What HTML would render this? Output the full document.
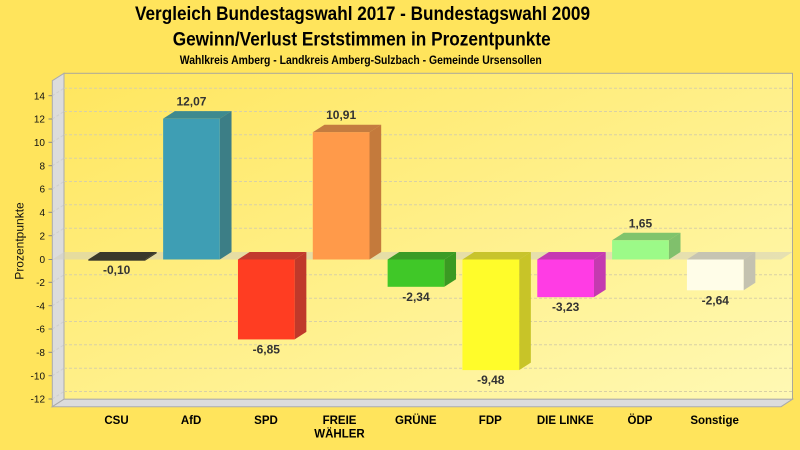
<!DOCTYPE html>
<html><head><meta charset="utf-8"><style>
html,body{margin:0;padding:0;background:#FFE45C;}
svg{display:block;font-family:"Liberation Sans",Arial,sans-serif;}
</style></head><body>
<svg width="800" height="450" viewBox="0 0 800 450" xmlns="http://www.w3.org/2000/svg">
<defs>
<linearGradient id="wall" x1="0" y1="0" x2="1" y2="1">
<stop offset="0" stop-color="#FFE65E"/>
<stop offset="1" stop-color="#FFF9B4"/>
</linearGradient>
</defs>
<rect x="0" y="0" width="800" height="450" fill="#FFE45C"/>
<!-- titles -->
<text x="362.5" y="19.8" font-size="19.5" font-weight="bold" text-anchor="middle" textLength="455" lengthAdjust="spacingAndGlyphs">Vergleich Bundestagswahl 2017 - Bundestagswahl 2009</text>
<text x="361.7" y="45.5" font-size="19.5" font-weight="bold" text-anchor="middle" textLength="378" lengthAdjust="spacingAndGlyphs">Gewinn/Verlust Erststimmen in Prozentpunkte</text>
<text x="360.8" y="63.8" font-size="11.5" font-weight="bold" text-anchor="middle" textLength="362" lengthAdjust="spacingAndGlyphs">Wahlkreis Amberg - Landkreis Amberg-Sulzbach - Gemeinde Ursensollen</text>

<!-- back wall -->
<rect x="64" y="73.3" width="728.5" height="326" fill="url(#wall)" stroke="#ABA89A" stroke-width="1"/>
<!-- left wall -->
<polygon points="52.3,80.7 64,73.3 64,399.2 52.3,406.7" fill="#DCDCDC" stroke="#ABABAB" stroke-width="1"/>
<!-- floor -->
<polygon points="52.3,406.7 64,399.2 792.5,399.2 781,406.7" fill="#DCDCDC" stroke="#ABABAB" stroke-width="1"/>

<!-- gridlines -->
<g stroke="#D8D0A6" stroke-width="1" stroke-dasharray="3,2" fill="none">
<line x1="64" y1="88.2" x2="792" y2="88.2"/>
<line x1="64" y1="111.5" x2="792" y2="111.5"/>
<line x1="64" y1="134.8" x2="792" y2="134.8"/>
<line x1="64" y1="158.2" x2="792" y2="158.2"/>
<line x1="64" y1="181.5" x2="792" y2="181.5"/>
<line x1="64" y1="204.8" x2="792" y2="204.8"/>
<line x1="64" y1="228.2" x2="792" y2="228.2"/>
<line x1="64" y1="274.8" x2="792" y2="274.8"/>
<line x1="64" y1="298.2" x2="792" y2="298.2"/>
<line x1="64" y1="321.5" x2="792" y2="321.5"/>
<line x1="64" y1="344.8" x2="792" y2="344.8"/>
<line x1="64" y1="368.2" x2="792" y2="368.2"/>
<line x1="64" y1="391.5" x2="792" y2="391.5"/>
</g>
<g stroke="#CFCFCF" stroke-width="1" stroke-dasharray="3,2" fill="none">
<line x1="52.3" y1="95.7" x2="64" y2="88.2"/>
<line x1="52.3" y1="119" x2="64" y2="111.5"/>
<line x1="52.3" y1="142.3" x2="64" y2="134.8"/>
<line x1="52.3" y1="165.7" x2="64" y2="158.2"/>
<line x1="52.3" y1="189" x2="64" y2="181.5"/>
<line x1="52.3" y1="212.3" x2="64" y2="204.8"/>
<line x1="52.3" y1="235.7" x2="64" y2="228.2"/>
<line x1="52.3" y1="282.3" x2="64" y2="274.8"/>
<line x1="52.3" y1="305.7" x2="64" y2="298.2"/>
<line x1="52.3" y1="329" x2="64" y2="321.5"/>
<line x1="52.3" y1="352.3" x2="64" y2="344.8"/>
<line x1="52.3" y1="375.7" x2="64" y2="368.2"/>
<line x1="52.3" y1="399" x2="64" y2="391.5"/>
</g>

<!-- zero plane -->
<polygon points="52.3,259.5 64,252 792.5,252 781,259.5" fill="#D2CFC0" fill-opacity="0.55"/>

<!-- ticks -->
<g stroke="#8A8A8A" stroke-width="1">
<line x1="48.5" y1="95.7" x2="52.3" y2="95.7"/>
<line x1="48.5" y1="119" x2="52.3" y2="119"/>
<line x1="48.5" y1="142.3" x2="52.3" y2="142.3"/>
<line x1="48.5" y1="165.7" x2="52.3" y2="165.7"/>
<line x1="48.5" y1="189" x2="52.3" y2="189"/>
<line x1="48.5" y1="212.3" x2="52.3" y2="212.3"/>
<line x1="48.5" y1="235.7" x2="52.3" y2="235.7"/>
<line x1="48.5" y1="259.5" x2="52.3" y2="259.5"/>
<line x1="48.5" y1="282.3" x2="52.3" y2="282.3"/>
<line x1="48.5" y1="305.7" x2="52.3" y2="305.7"/>
<line x1="48.5" y1="329" x2="52.3" y2="329"/>
<line x1="48.5" y1="352.3" x2="52.3" y2="352.3"/>
<line x1="48.5" y1="375.7" x2="52.3" y2="375.7"/>
<line x1="48.5" y1="399" x2="52.3" y2="399"/>
</g>
<g font-size="10" text-anchor="end" fill="#111">
<text x="45" y="99.3">14</text>
<text x="45" y="122.6">12</text>
<text x="45" y="145.9">10</text>
<text x="45" y="169.3">8</text>
<text x="45" y="192.6">6</text>
<text x="45" y="215.9">4</text>
<text x="45" y="239.3">2</text>
<text x="45" y="263.1">0</text>
<text x="45" y="285.9">-2</text>
<text x="45" y="309.3">-4</text>
<text x="45" y="332.6">-6</text>
<text x="45" y="355.9">-8</text>
<text x="45" y="379.3">-10</text>
<text x="45" y="402.6">-12</text>
</g>
<text transform="translate(23.5,241) rotate(-90)" font-size="12" text-anchor="middle" fill="#111">Prozentpunkte</text>

<!-- bars -->
<!-- CSU -->
<polygon points="88.3,259.5 100,252 156.7,252 145,259.5" fill="#3A392B"/>
<polygon points="145,259.5 156.7,252 156.7,253.2 145,260.7" fill="#3A392B"/>
<rect x="88.3" y="259.5" width="56.7" height="1.2" fill="#3A392B"/>
<!-- AfD -->
<polygon points="163.13,118.68 174.83,111.18 231.53,111.18 219.83,118.68" fill="#3E8A8F"/>
<polygon points="219.83,118.68 231.53,111.18 231.53,252 219.83,259.5" fill="#3C7E86"/>
<rect x="163.13" y="118.68" width="56.7" height="140.82" fill="#3E9EB4"/>
<!-- SPD -->
<polygon points="237.96,259.5 249.66,252 306.36,252 294.66,259.5" fill="#C23A2E"/>
<polygon points="294.66,259.5 306.36,252 306.36,331.92 294.66,339.42" fill="#C0392A"/>
<rect x="237.96" y="259.5" width="56.7" height="79.92" fill="#FF3D22"/>
<!-- FREIE WÄHLER -->
<polygon points="312.79,132.21 324.49,124.71 381.19,124.71 369.49,132.21" fill="#C47C40"/>
<polygon points="369.49,132.21 381.19,124.71 381.19,252 369.49,259.5" fill="#C47A3C"/>
<rect x="312.79" y="132.21" width="56.7" height="127.29" fill="#FF9A4A"/>
<!-- GRÜNE -->
<polygon points="387.62,259.5 399.32,252 456.02,252 444.32,259.5" fill="#3C9C26"/>
<polygon points="444.32,259.5 456.02,252 456.02,279.3 444.32,286.8" fill="#3A9A22"/>
<rect x="387.62" y="259.5" width="56.7" height="27.3" fill="#40C828"/>
<!-- FDP -->
<polygon points="462.45,259.5 474.15,252 530.85,252 519.15,259.5" fill="#C8C42C"/>
<polygon points="519.15,259.5 530.85,252 530.85,362.6 519.15,370.1" fill="#C8C428"/>
<rect x="462.45" y="259.5" width="56.7" height="110.6" fill="#FFFC2A"/>
<!-- DIE LINKE -->
<polygon points="537.28,259.5 548.98,252 605.68,252 593.98,259.5" fill="#C63AB2"/>
<polygon points="593.98,259.5 605.68,252 605.68,289.68 593.98,297.18" fill="#C43AB0"/>
<rect x="537.28" y="259.5" width="56.7" height="37.68" fill="#FF3CE4"/>
<!-- ÖDP -->
<polygon points="612.11,240.25 623.81,232.75 680.51,232.75 668.81,240.25" fill="#80C46C"/>
<polygon points="668.81,240.25 680.51,232.75 680.51,252 668.81,259.5" fill="#80C06C"/>
<rect x="612.11" y="240.25" width="56.7" height="19.25" fill="#9CFA88"/>
<!-- Sonstige -->
<polygon points="686.94,259.5 698.64,252 755.34,252 743.64,259.5" fill="#C6C4B2"/>
<polygon points="743.64,259.5 755.34,252 755.34,282.8 743.64,290.3" fill="#C4C2B0"/>
<rect x="686.94" y="259.5" width="56.7" height="30.8" fill="#FFFDE8"/>

<!-- value labels -->
<g font-size="12" font-weight="bold" text-anchor="middle" fill="#333">
<text x="116.65" y="274">-0,10</text>
<text x="191.48" y="105.7">12,07</text>
<text x="266.31" y="353.4">-6,85</text>
<text x="341.14" y="119.2">10,91</text>
<text x="415.97" y="300.8">-2,34</text>
<text x="490.8" y="384.1">-9,48</text>
<text x="565.63" y="311.2">-3,23</text>
<text x="640.46" y="227.25">1,65</text>
<text x="715.29" y="304.3">-2,64</text>
</g>

<!-- category labels -->
<g font-size="11.5" font-weight="bold" text-anchor="middle" fill="#000">
<text x="116.5" y="424">CSU</text>
<text x="191.1" y="424">AfD</text>
<text x="266" y="424">SPD</text>
<text x="339.5" y="424">FREIE</text>
<text x="339.5" y="437.5">WÄHLER</text>
<text x="415.8" y="424">GRÜNE</text>
<text x="490.3" y="424">FDP</text>
<text x="565.3" y="424">DIE LINKE</text>
<text x="640" y="424">ÖDP</text>
<text x="714.6" y="424">Sonstige</text>
</g>
</svg>
</body></html>
